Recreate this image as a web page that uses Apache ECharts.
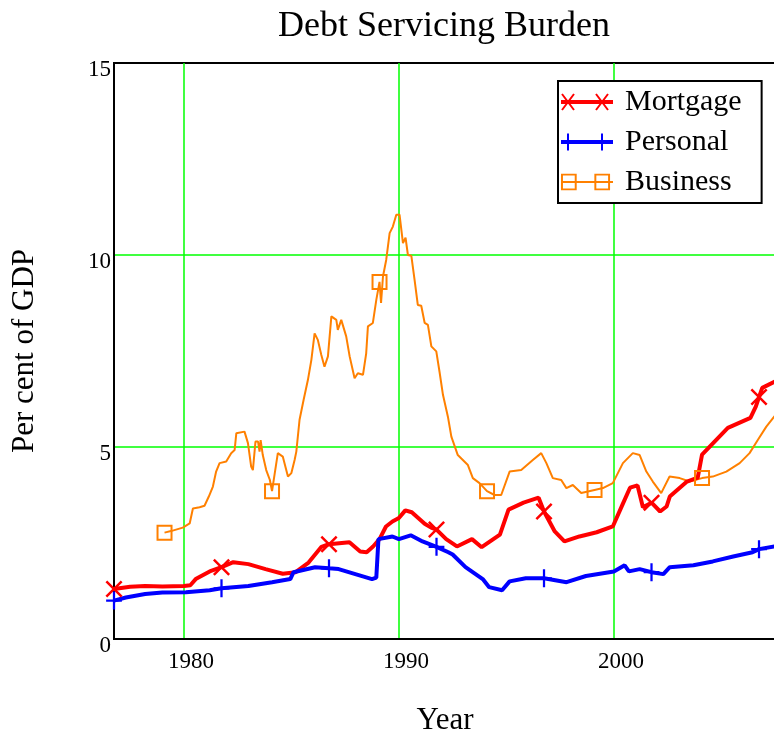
<!DOCTYPE html>
<html>
<head>
<meta charset="utf-8">
<title>Debt Servicing Burden</title>
<script src="https://cdn.jsdelivr.net/npm/echarts@6/dist/echarts.min.js"></script>
<style>
    html, body {margin: 0; padding: 0; background: #fff;}
    #chart {width: 774px; height: 736px;}
</style>
</head>
<body>
<div id="chart"></div>
<script>
    //数据
    let mortgageYears = [1976.75, 1977.5, 1978.2, 1979.0, 1980.0, 1980.3, 1980.55, 1981.2, 1981.75, 1982.3, 1983.0, 1983.8,
        1984.6, 1985.2, 1985.8, 1986.4, 1986.75, 1987.7, 1988.2, 1988.5, 1988.8, 1989.1, 1989.4, 1989.7, 1990.0, 1990.3,
        1990.6, 1990.9, 1991.2, 1991.5, 1991.75, 1992.2, 1992.7, 1993.4, 1993.85, 1994.7, 1995.1, 1995.8, 1996.5, 1996.75,
        1997.25, 1997.7, 1998.4, 1999.2, 1999.95, 2000.4, 2000.75, 2001.1, 2001.35, 2001.75, 2002.15, 2002.45, 2002.6,
        2003.4, 2003.9, 2004.1, 2005.3, 2006.35, 2006.6, 2006.75, 2006.9, 2007.54];
    let mortgageValues = [1.30, 1.36, 1.38, 1.37, 1.38, 1.40, 1.56, 1.76, 1.87, 2.00, 1.95, 1.82,
        1.70, 1.74, 1.99, 2.40, 2.47, 2.52, 2.28, 2.26, 2.41, 2.60, 2.93, 3.06, 3.15, 3.35,
        3.30, 3.15, 3.00, 2.90, 2.85, 2.60, 2.41, 2.60, 2.39, 2.72, 3.37, 3.55, 3.68, 3.32,
        2.80, 2.54, 2.67, 2.78, 2.93, 3.50, 3.94, 4.00, 3.43, 3.55, 3.32, 3.45, 3.71,
        4.10, 4.20, 4.80, 5.50, 5.76, 6.05, 6.30, 6.54, 6.72];
    let mortgageMarks = [1976.75, 1981.75, 1986.75, 1991.75, 1996.75, 2001.75, 2006.75];

    let personalYears = [1976.75, 1977.3, 1978.2, 1979.0, 1980.1, 1981.2, 1981.75, 1983.0, 1984.1, 1984.95, 1985.1, 1986.1,
        1986.75, 1987.2, 1988.75, 1988.95, 1989.05, 1989.7, 1990.0, 1990.55, 1991.1, 1991.75, 1992.3, 1992.5, 1993.1,
        1993.9, 1994.2, 1994.8, 1995.15, 1995.9, 1996.75, 1997.8, 1998.7, 2000.0, 2000.5, 2000.7, 2001.2, 2001.75,
        2002.3, 2002.6, 2003.7, 2004.6, 2005.55, 2006.45, 2006.75, 2007.54];
    let personalValues = [1.00, 1.08, 1.17, 1.21, 1.22, 1.27, 1.32, 1.38, 1.48, 1.56, 1.74, 1.87,
        1.84, 1.82, 1.56, 1.60, 2.60, 2.67, 2.60, 2.70, 2.54, 2.40, 2.26, 2.20, 1.87,
        1.56, 1.35, 1.27, 1.50, 1.58, 1.58, 1.48, 1.64, 1.76, 1.92, 1.76, 1.82, 1.74,
        1.69, 1.87, 1.92, 2.02, 2.15, 2.26, 2.34, 2.42];
    let personalMarks = [1976.75, 1981.75, 1986.75, 1991.75, 1996.75, 2001.75, 2006.75];

    let businessYears = [1979.1, 1979.4, 1979.95, 1980.27, 1980.42, 1980.73, 1980.96, 1981.16, 1981.35, 1981.5, 1981.66,
        1981.97, 1982.2, 1982.36, 1982.44, 1982.82, 1982.98, 1983.13, 1983.21, 1983.33, 1983.45, 1983.52, 1983.57,
        1983.67, 1983.83, 1984.0, 1984.1, 1984.37, 1984.6, 1984.84, 1985.0, 1985.15, 1985.23, 1985.38, 1985.57,
        1985.77, 1985.93, 1986.08, 1986.23, 1986.39, 1986.54, 1986.7, 1986.86, 1987.09, 1987.16, 1987.32, 1987.55,
        1987.71, 1987.94, 1988.09, 1988.33, 1988.48, 1988.56, 1988.79, 1988.95, 1989.1, 1989.17, 1989.26, 1989.41,
        1989.57, 1989.72, 1989.88, 1990.03, 1990.19, 1990.31, 1990.42, 1990.58, 1990.73, 1990.88, 1991.04, 1991.2,
        1991.35, 1991.51, 1991.74, 1991.89, 1992.05, 1992.28, 1992.44, 1992.74, 1993.21, 1993.44, 1993.75, 1994.1,
        1994.45, 1994.76, 1995.15, 1995.69, 1996.23, 1996.62, 1996.86, 1997.16, 1997.55, 1997.79, 1998.09, 1998.48,
        1999.1, 1999.49, 1999.95, 2000.42, 2000.88, 2001.2, 2001.51, 2001.81, 2002.2, 2002.59, 2003.06, 2003.52,
        2004.1, 2004.6, 2005.23, 2005.85, 2006.31, 2006.7, 2007.09, 2007.54];
    let businessValues = [2.77, 2.81, 2.90, 3.01, 3.40, 3.43, 3.47, 3.71, 3.97, 4.36, 4.58,
        4.62, 4.84, 4.92, 5.36, 5.40, 5.10, 4.49, 4.40, 5.14, 5.14, 4.88, 5.18,
        4.79, 4.40, 4.14, 3.85, 4.84, 4.75, 4.23, 4.32, 4.66, 4.88, 5.71, 6.23,
        6.75, 7.27, 7.96, 7.79, 7.40, 7.09, 7.36, 8.40, 8.31, 8.05, 8.31, 7.88,
        7.36, 6.79, 6.92, 6.88, 7.44, 8.14, 8.23, 8.83, 9.30, 8.75, 9.44, 9.87,
        10.57, 10.74, 11.05, 11.05, 10.31, 10.45, 10.00, 9.98, 9.35, 8.70, 8.68, 8.23,
        8.18, 7.62, 7.49, 6.96, 6.36, 5.79, 5.27, 4.79, 4.53, 4.19, 4.06, 3.85,
        3.75, 3.75, 4.36, 4.40, 4.66, 4.84, 4.58, 4.19, 4.14, 3.93, 4.01, 3.80,
        3.88, 3.93, 4.06, 4.58, 4.84, 4.79, 4.36, 4.10, 3.80, 4.23, 4.19, 4.10,
        4.19, 4.23, 4.36, 4.58, 4.84, 5.19, 5.53, 5.85];
    let businessMarks = [1979.1, 1984.1, 1989.1, 1994.1, 1999.1, 2004.1];

    let yTicks = [0, 5, 10, 15];

    let FONT = 'Liberation Serif, Times New Roman, serif';
    let GRID_GREEN = '#00ff00';

    //画一条粗线段 (filled rect, same winding every time)
    function seg(x1, y1, x2, y2, w) {
        let dx = x2 - x1, dy = y2 - y1, len = Math.sqrt(dx * dx + dy * dy);
        let nx = -dy / len * w / 2, ny = dx / len * w / 2;
        return 'M' + (x1 + nx) + ',' + (y1 + ny) + 'L' + (x2 + nx) + ',' + (y2 + ny) +
            'L' + (x2 - nx) + ',' + (y2 - ny) + 'L' + (x1 - nx) + ',' + (y1 - ny) + 'Z';
    }
    //tiny corner dots so the path box is w x h
    function frame(w, h) {
        return 'M0,0L0.01,0L0,0.01Z' + 'M' + w + ',' + h + 'L' + (w - 0.01) + ',' + h + 'L' + w + ',' + (h - 0.01) + 'Z';
    }
    function cross(cx, cy, hw, hh, w) {
        return seg(cx - hw, cy - hh, cx + hw, cy + hh, w) + seg(cx + hw, cy - hh, cx - hw, cy + hh, w);
    }
    function plus(cx, cy, hw, hh, w) {
        return seg(cx, cy - hh, cx, cy + hh, w) + seg(cx - hw, cy, cx + hw, cy, w);
    }
    function box(cx, cy, hw, hh, w) {
        return seg(cx - hw - 1, cy - hh, cx + hw + 1, cy - hh, w) + seg(cx + hw, cy - hh - 1, cx + hw, cy + hh + 1, w) +
            seg(cx + hw + 1, cy + hh, cx - hw - 1, cy + hh, w) + seg(cx - hw, cy + hh + 1, cx - hw, cy - hh - 1, w);
    }

    //标记
    let xMark = 'path://' + frame(16, 16) + cross(8, 8, 6.8, 6.8, 2.2);
    let plusMark = 'path://' + frame(16, 16) + plus(8, 8, 7, 8, 2);
    let squareMark = 'path://' + frame(16, 16) + box(8, 8, 7, 7, 2);

    //图例图标 52 x 18
    let mortgageIcon = 'path://' + frame(52, 18) + seg(0, 9, 52, 9, 4) + cross(7, 9, 6, 8, 2) + cross(41, 9, 6, 8, 2);
    let personalIcon = 'path://' + frame(52, 18) + seg(0, 9, 52, 9, 4) + plus(7, 9, 0.1, 8.5, 2) + plus(41, 9, 0.1, 8.5, 2);
    let businessIcon = 'path://' + frame(52, 18) + seg(0, 9, 52, 9, 2) + box(7, 9, 7, 7.5, 2) + box(41, 9, 7, 7.5, 2);

    function pairs(xs, ys) {
        return xs.map(function (x, i) { return [x, ys[i]]; });
    }
    function marker(marks, shape) {
        return function (value) {
            return marks.indexOf(value[0]) >= 0 ? shape : 'none';
        };
    }

    let chart = echarts.init(document.getElementById('chart'));

    let option = {
        animation: false,
        backgroundColor: '#fff',
        title: {
            text: 'Debt Servicing Burden',
            left: 278,
            top: 9,
            padding: 0,
            textStyle: {fontFamily: FONT, fontSize: 36, fontWeight: 'normal', color: '#000'}
        },
        legend: {
            left: 558,
            top: 81,
            orient: 'vertical',
            selectedMode: false,
            backgroundColor: '#fff',
            borderColor: '#000',
            borderWidth: 2,
            borderRadius: 0,
            padding: [6, 20, 6, 3],
            itemWidth: 52,
            itemHeight: 18,
            itemGap: 10,
            itemStyle: {borderWidth: 0},
            textStyle: {fontFamily: FONT, fontSize: 30, color: '#000', padding: [0, 0, 0, 7]},
            data: [
                {name: 'Mortgage', icon: mortgageIcon},
                {name: 'Personal', icon: personalIcon},
                {name: 'Business', icon: businessIcon}
            ]
        },
        //右边被截掉, 不要自动收缩
        grid: {
            left: 114,
            top: 63,
            right: -2,
            bottom: 97,
            outerBoundsMode: 'none',
            containLabel: false,
            show: true,
            borderColor: '#000',
            borderWidth: 2
        },
        xAxis: {
            type: 'value',
            min: 1976.75,
            max: 2007.54,
            splitNumber: 3,
            name: 'Year',
            nameLocation: 'middle',
            nameGap: 66,
            nameTextStyle: {fontFamily: FONT, fontSize: 31, color: '#000'},
            axisLine: {show: true, lineStyle: {color: '#000', width: 2}},
            axisTick: {show: false},
            axisLabel: {
                fontFamily: FONT, fontSize: 23, color: '#000', margin: 11,
                padding: [0, 0, 0, 14],
                formatter: function (v) { return v % 10 === 0 ? String(v) : ''; }
            },
            splitLine: {show: true, showMinLine: false, showMaxLine: false, lineStyle: {color: GRID_GREEN, width: 1.5}}
        },
        yAxis: {
            type: 'value',
            min: yTicks[0],
            max: yTicks[yTicks.length - 1],
            interval: 5,
            name: 'Per cent of GDP',
            nameLocation: 'middle',
            nameGap: 74,
            nameTextStyle: {fontFamily: FONT, fontSize: 31, color: '#000'},
            axisLine: {show: true, lineStyle: {color: '#000', width: 2}},
            axisTick: {show: false},
            //标签略低于刻度
            axisLabel: {
                fontFamily: FONT, fontSize: 23, color: '#000', margin: 3,
                verticalAlign: 'top', lineHeight: 13
            },
            splitLine: {show: true, showMinLine: false, showMaxLine: false, lineStyle: {color: GRID_GREEN, width: 1.5}}
        },
        series: [
            {
                name: 'Business',
                type: 'line',
                data: pairs(businessYears, businessValues),
                symbol: marker(businessMarks, squareMark),
                symbolSize: 16,
                color: '#ff8000',
                itemStyle: {color: '#ff8000', borderWidth: 0},
                lineStyle: {color: '#ff8000', width: 2}
            },
            {
                name: 'Mortgage',
                type: 'line',
                data: pairs(mortgageYears, mortgageValues),
                symbol: marker(mortgageMarks, xMark),
                symbolSize: 18,
                color: '#ff0000',
                itemStyle: {color: '#ff0000', borderWidth: 0},
                lineStyle: {color: '#ff0000', width: 4}
            },
            {
                name: 'Personal',
                type: 'line',
                data: pairs(personalYears, personalValues),
                symbol: marker(personalMarks, plusMark),
                symbolSize: 18,
                color: '#0000ff',
                itemStyle: {color: '#0000ff', borderWidth: 0},
                lineStyle: {color: '#0000ff', width: 4}
            }
        ]
    };

    chart.setOption(option);
</script>
</body>
</html>
